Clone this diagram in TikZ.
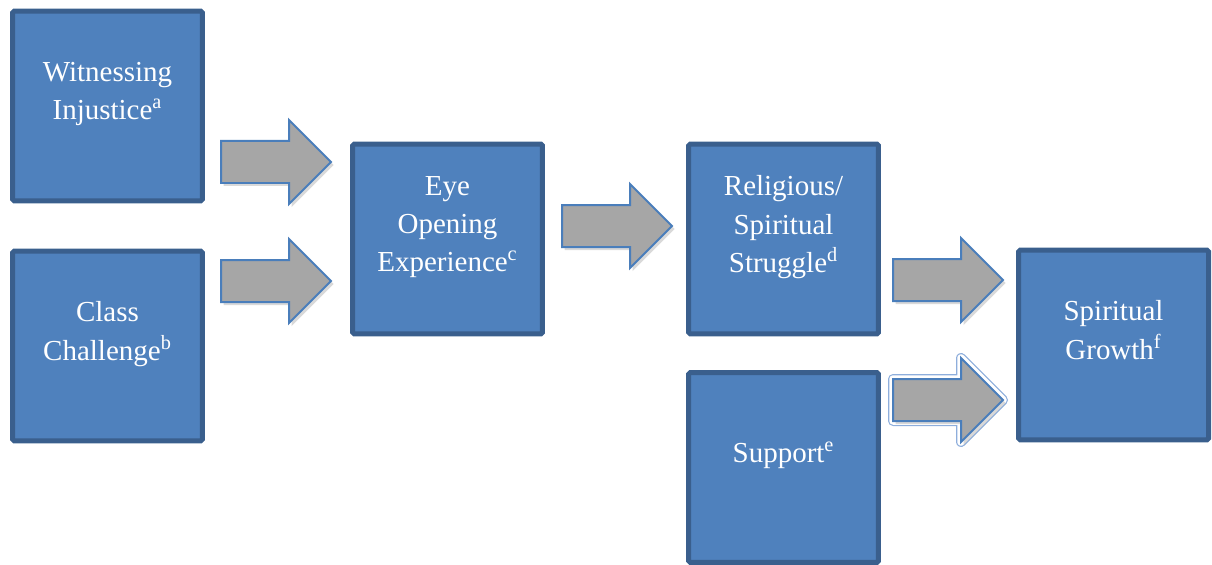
\documentclass[tikz,border=0pt]{standalone}
\usepackage{fontspec}
\setmainfont{Liberation Serif}
\usetikzlibrary{shadows}

\definecolor{boxfill}{HTML}{4F81BD}
\definecolor{boxline}{HTML}{3A5F8D}
\definecolor{arrowfill}{HTML}{A6A6A6}
\definecolor{arrowline}{HTML}{4A7EBB}
\definecolor{glowline}{HTML}{8EAEDC}

\tikzset{
  stagebox/.style={draw=boxline, fill=boxfill, line width=0.1cm, rounded corners=1pt,
    minimum size=3.8cm, inner sep=0pt, text=white, align=center, text depth=0.6cm,
    font=\fontsize{16.5}{21.8}\selectfont},
  arrowbody/.style={draw=arrowline, fill=arrowfill, line width=0.04cm,
    drop shadow={shadow xshift=0.05cm, shadow yshift=-0.06cm, opacity=0.3}},
  glowbody/.style={preaction={draw=glowline, line width=0.2cm, line join=round},
    preaction={draw=white, line width=0.15cm, line join=round}, arrowbody},
  pics/blockarrow/.style={code={
    \draw[#1] (0,-21) -- (68,-21) -- (68,-42) -- (110,0) -- (68,42) -- (68,21) -- (0,21) -- cycle;
  }},
}

\begin{document}
\begin{tikzpicture}[x=0.02cm, y=-0.02cm]
  \useasboundingbox (0,0) rectangle (1212,564);

  \node[stagebox] (injustice) at (107.5,106) {Witnessing\\Injustice\textsuperscript{a}};
  \node[stagebox] (challenge) at (107.5,346) {Class\\Challenge\textsuperscript{b}};
  \node[stagebox] (eyeopen) at (447.5,239) {Eye\\Opening\\Experience\textsuperscript{c}};
  \node[stagebox] (struggle) at (783.5,239) {Religious/\\Spiritual\\Struggle\textsuperscript{d}};
  \node[stagebox] (support) at (783.5,467.5) {Support\textsuperscript{e}};
  \node[stagebox] (growth) at (1113.5,345) {Spiritual\\Growth\textsuperscript{f}};

  \pic (injtoeye) at (221,162) {blockarrow=arrowbody};
  \pic (clstoeye) at (221,281) {blockarrow=arrowbody};
  \pic (eyetostr) at (562,226) {blockarrow=arrowbody};
  \pic (strtogro) at (893,280) {blockarrow=arrowbody};
  \pic (suptogro) at (893,400) {blockarrow=glowbody};
\end{tikzpicture}
\end{document}
